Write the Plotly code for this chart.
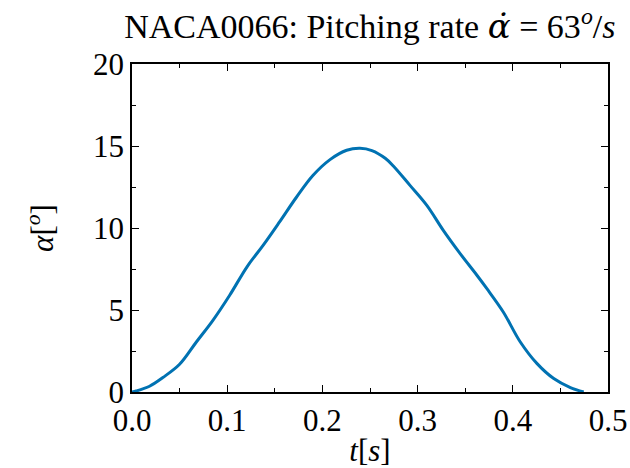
import plotly.graph_objects as go

# Data
t_s = [0.0, 0.0044, 0.0184, 0.0324, 0.050, 0.0676, 0.085, 0.1026, 0.121,
       0.1377, 0.155, 0.1729, 0.190, 0.208, 0.2255, 0.2395, 0.252, 0.266,
       0.2745, 0.292, 0.3097, 0.327, 0.3447, 0.3623, 0.3728, 0.390, 0.4079,
       0.4255, 0.443, 0.4605, 0.4745]
alpha_deg = [0.0, 0.06, 0.35, 0.88, 1.69, 3.05, 4.37, 5.90, 7.65,
             8.94, 10.37, 11.89, 13.20, 14.17, 14.74, 14.86, 14.72, 14.25,
             13.78, 12.60, 11.38, 9.86, 8.44, 7.12, 6.30, 4.88, 3.05,
             1.73, 0.82, 0.27, 0.0]

x_ticks = [0.0, 0.1, 0.2, 0.3, 0.4, 0.5]
x_tick_labels = ["0.0", "0.1", "0.2", "0.3", "0.4", "0.5"]
y_ticks = [0, 5, 10, 15, 20]
y_tick_labels = ["0", "5", "10", "15", "20"]

FONT = "Liberation Serif"

fig = go.Figure()
fig.add_trace(go.Scatter(
    x=t_s, y=alpha_deg, mode="lines",
    line=dict(color="#0072B2", width=3, shape="spline", smoothing=1.0),
    showlegend=False,
))

axis_common = dict(
    showline=True, linecolor="black", linewidth=1.5, mirror="allticks",
    ticks="inside", ticklen=7, tickwidth=1.3, tickcolor="black",
    showgrid=False, zeroline=False,
    tickfont=dict(family=FONT, size=31, color="black"),
)

fig.update_xaxes(
    range=[0, 0.5], tickvals=x_ticks, ticktext=x_tick_labels,
    minor=dict(ticks="inside", ticklen=4, tickwidth=1.1, tickcolor="black", dtick=0.05),
    title=dict(text="<i>t</i>[<i>s</i>]", font=dict(family=FONT, size=31, color="black"), standoff=6),
    **axis_common,
)
fig.update_yaxes(
    range=[0, 20], tickvals=y_ticks, ticktext=y_tick_labels,
    minor=dict(ticks="inside", ticklen=4, tickwidth=1.1, tickcolor="black", dtick=2.5),
    title=dict(text="<i>α</i>[<sup><i>o</i></sup>]", font=dict(family=FONT, size=31, color="black"), standoff=30),
    **axis_common,
)

fig.update_layout(
    width=630, height=468,
    margin=dict(l=132, r=22, t=64, b=76, autoexpand=False),
    paper_bgcolor="white", plot_bgcolor="white",
    title=dict(
        text="NACA0066: Pitching rate <span style=\"font-family:'DejaVu Serif'\"><i>α̇</i></span> = 63<sup><i>o</i></sup>/<i>s</i>",
        font=dict(family=FONT, size=34, color="black"),
        x=0.587, xanchor="center", y=0.944, yanchor="middle",
    ),
)

fig.write_html("out.html")
